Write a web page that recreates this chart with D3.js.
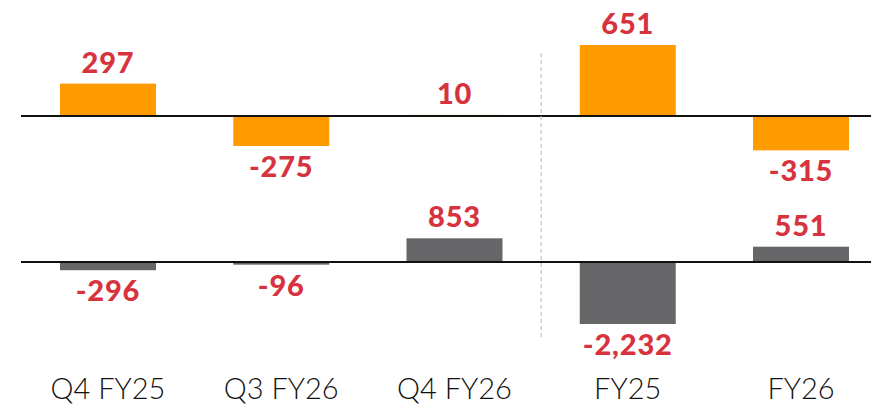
<!DOCTYPE html>
<html>
<head>
<meta charset="utf-8">
<script src="https://cdn.jsdelivr.net/npm/d3@7"></script>
<style>
  body { margin: 0; background: #fff; }
  svg { display: block; }
</style>
</head>
<body>
<div id="chart"></div>
<script>
const categories = ["Q4 FY25", "Q3 FY26", "Q4 FY26", "FY25", "FY26"];
const topValues = [297, -275, 10, 651, -315];
const bottomValues = [-296, -96, 853, -2232, 551];

const width = 871, height = 404;

const svg = d3.select("#chart")
  .append("svg")
  .attr("width", width)
  .attr("height", height);

const x = d3.scaleBand()
  .domain(categories)
  .range([60, 849])
  .paddingInner(0.446)
  .paddingOuter(0);

// 上段 (橙色)
const yTop = d3.scaleLinear().domain([0, 651]).range([116, 45]);
// 下段 (灰色)
const yBottom = d3.scaleLinear().domain([0, -2232]).range([262, 324]);

function drawRow(values, y, color) {
  const g = svg.append("g");
  g.selectAll("rect")
    .data(values)
    .enter()
    .append("rect")
    .attr("x", (d, i) => x(categories[i]))
    .attr("y", (d) => Math.min(y(d), y(0)))
    .attr("width", x.bandwidth())
    .attr("height", (d) => Math.abs(y(d) - y(0)))
    .attr("fill", color);

  g.append("line")
    .attr("x1", 21)
    .attr("x2", width)
    .attr("y1", y(0))
    .attr("y2", y(0))
    .attr("stroke", "#111")
    .attr("stroke-width", 1.8);

  g.selectAll(".value-label")
    .data(values)
    .enter()
    .append("text")
    .attr("class", "value-label")
    .attr("x", (d, i) => x(categories[i]) + x.bandwidth() / 2)
    .attr("y", (d) => d >= 0 ? y(d) - 11 : y(d) + 31)
    .attr("text-anchor", "middle")
    .style("font-family", "Lato, sans-serif")
    .style("font-weight", 900)
    .style("font-size", "29px")
    .style("letter-spacing", "0.8px")
    .attr("fill", "#d7333f")
    .text((d) => d3.format(",")(d).replace("−", "-"));
}

drawRow(topValues, yTop, "#ff9a00");
drawRow(bottomValues, yBottom, "#666669");

// 分隔虛線
const sepX = (x("Q4 FY26") + x.bandwidth() + x("FY25")) / 2;
svg.append("line")
  .attr("x1", sepX)
  .attr("x2", sepX)
  .attr("y1", 53)
  .attr("y2", 337)
  .attr("stroke", "#b8b8b8")
  .attr("stroke-width", 1)
  .attr("stroke-dasharray", "4,3");

// 類別標籤
svg.selectAll(".cat-label")
  .data(categories)
  .enter()
  .append("text")
  .attr("class", "cat-label")
  .attr("x", (d) => x(d) + x.bandwidth() / 2)
  .attr("y", 399)
  .attr("text-anchor", "middle")
  .style("font-family", "Lato, sans-serif")
  .style("font-weight", 300)
  .style("font-size", "29px")
  .attr("fill", "#111")
  .text((d) => d);
</script>
</body>
</html>
